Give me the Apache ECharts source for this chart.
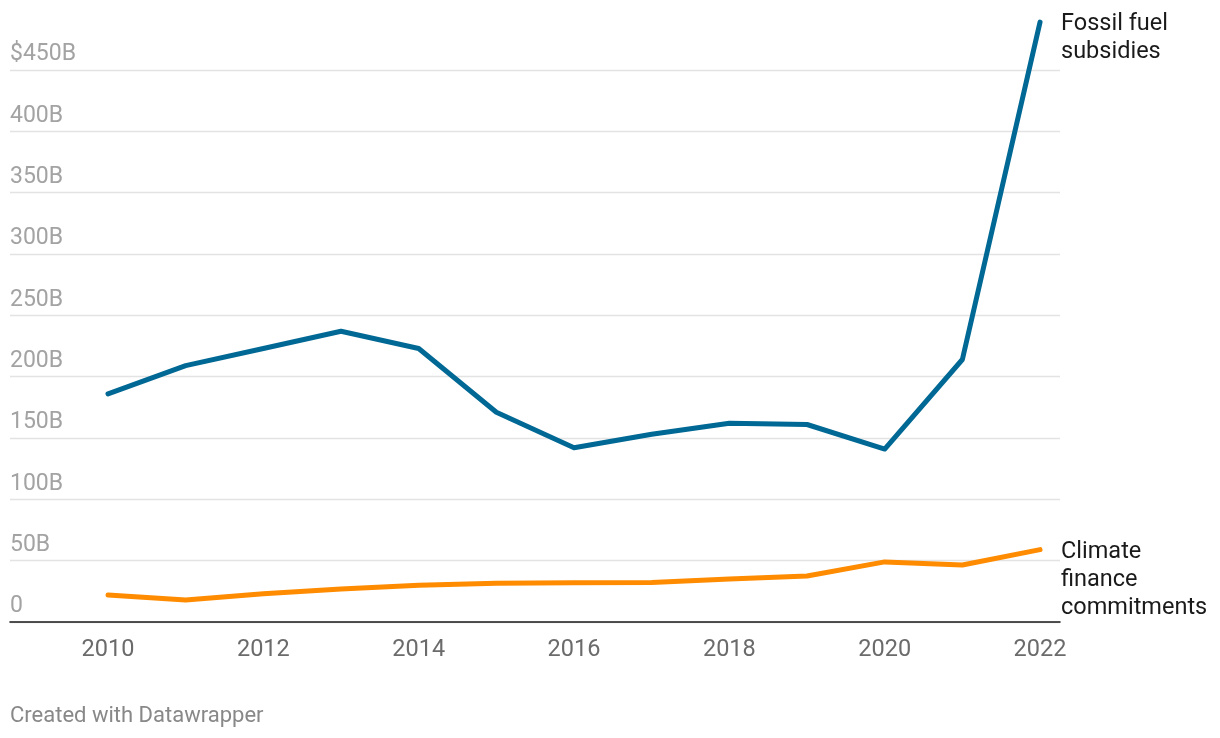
<!DOCTYPE html>
<html><head><meta charset="utf-8">
<script src="https://cdn.jsdelivr.net/npm/echarts@6/dist/echarts.min.js"></script>
<style>html,body{margin:0;padding:0;background:#fff}#c{width:1220px;height:738px}</style>
</head><body><div id="c"></div>
<script>
const years = [2010,2011,2012,2013,2014,2015,2016,2017,2018,2019,2020,2021,2022];
const fossilSubsidies = [186,209,223,237,223,171,142,153,162,161,141,214,489];
const climateFinance = [22,18,23,27,30,31.5,32,32.3,35,37.5,49,46.5,59];
const xTickYears = [2010,2012,2014,2016,2018,2020,2022];
const yTicks = [0,50,100,150,200,250,300,350,400,450];
const fossilLabel = 'Fossil fuel\nsubsidies';
const climateLabel = 'Climate\nfinance\ncommitments';

const chart = echarts.init(document.getElementById('c'));
const font = 'Roboto';
function pairs(vals){ return years.map((y,i)=>[y, vals[i]]); }
chart.setOption({
  animation: false,
  textStyle: {fontFamily: font},
  grid: {left: 10, right: 160, top: 70, bottom: 116, containLabel: false},
  xAxis: {
    type: 'value', min: 2008.738, max: 2022.257,
    axisLine: {show: true, onZero: false, lineStyle: {color: '#1a1a1a', width: 1.6}},
    axisTick: {show: false},
    splitLine: {show: false},
    axisLabel: {customValues: xTickYears, color: '#6b6b6b', fontSize: 23.5, margin: 16, fontFamily: font,
      formatter: v => String(v)}
  },
  yAxis: {
    type: 'value', min: 0, max: 450, interval: 50,
    axisLine: {show: false}, axisTick: {show: false},
    splitLine: {lineStyle: {color: '#e3e3e3', width: 1.3}},
    axisLabel: {inside: true, margin: 0, verticalAlign: 'bottom', padding: [0,0,4,0],
      color: '#a3a3a3', fontSize: 23, fontFamily: font,
      formatter: v => v === 450 ? '$450B' : (v === 0 ? '0' : v + 'B')}
  },
  series: [
    {type: 'line', data: pairs(fossilSubsidies), showSymbol: false, clip: false,
     lineStyle: {color: '#006894', width: 5, cap: 'round', join: 'round'},
     itemStyle: {color: '#006894'},
     endLabel: {show: true, formatter: fossilLabel, color: '#1a1a1a', fontSize: 23.5, lineHeight: 28,
       fontFamily: font, distance: 21, verticalAlign: 'top', offset: [0, -12]}},
    {type: 'line', data: pairs(climateFinance), showSymbol: false, clip: false,
     lineStyle: {color: '#ff8b00', width: 5, cap: 'round', join: 'round'},
     itemStyle: {color: '#ff8b00'},
     endLabel: {show: true, formatter: climateLabel, color: '#1a1a1a', fontSize: 23.5, lineHeight: 28,
       fontFamily: font, distance: 21, verticalAlign: 'top', offset: [0, -12]}}
  ],
  graphic: [{type: 'text', left: 10, top: 705, style: {text: 'Created with Datawrapper', fill: '#888', font: '22px Roboto'}}]
});
</script></body></html>
